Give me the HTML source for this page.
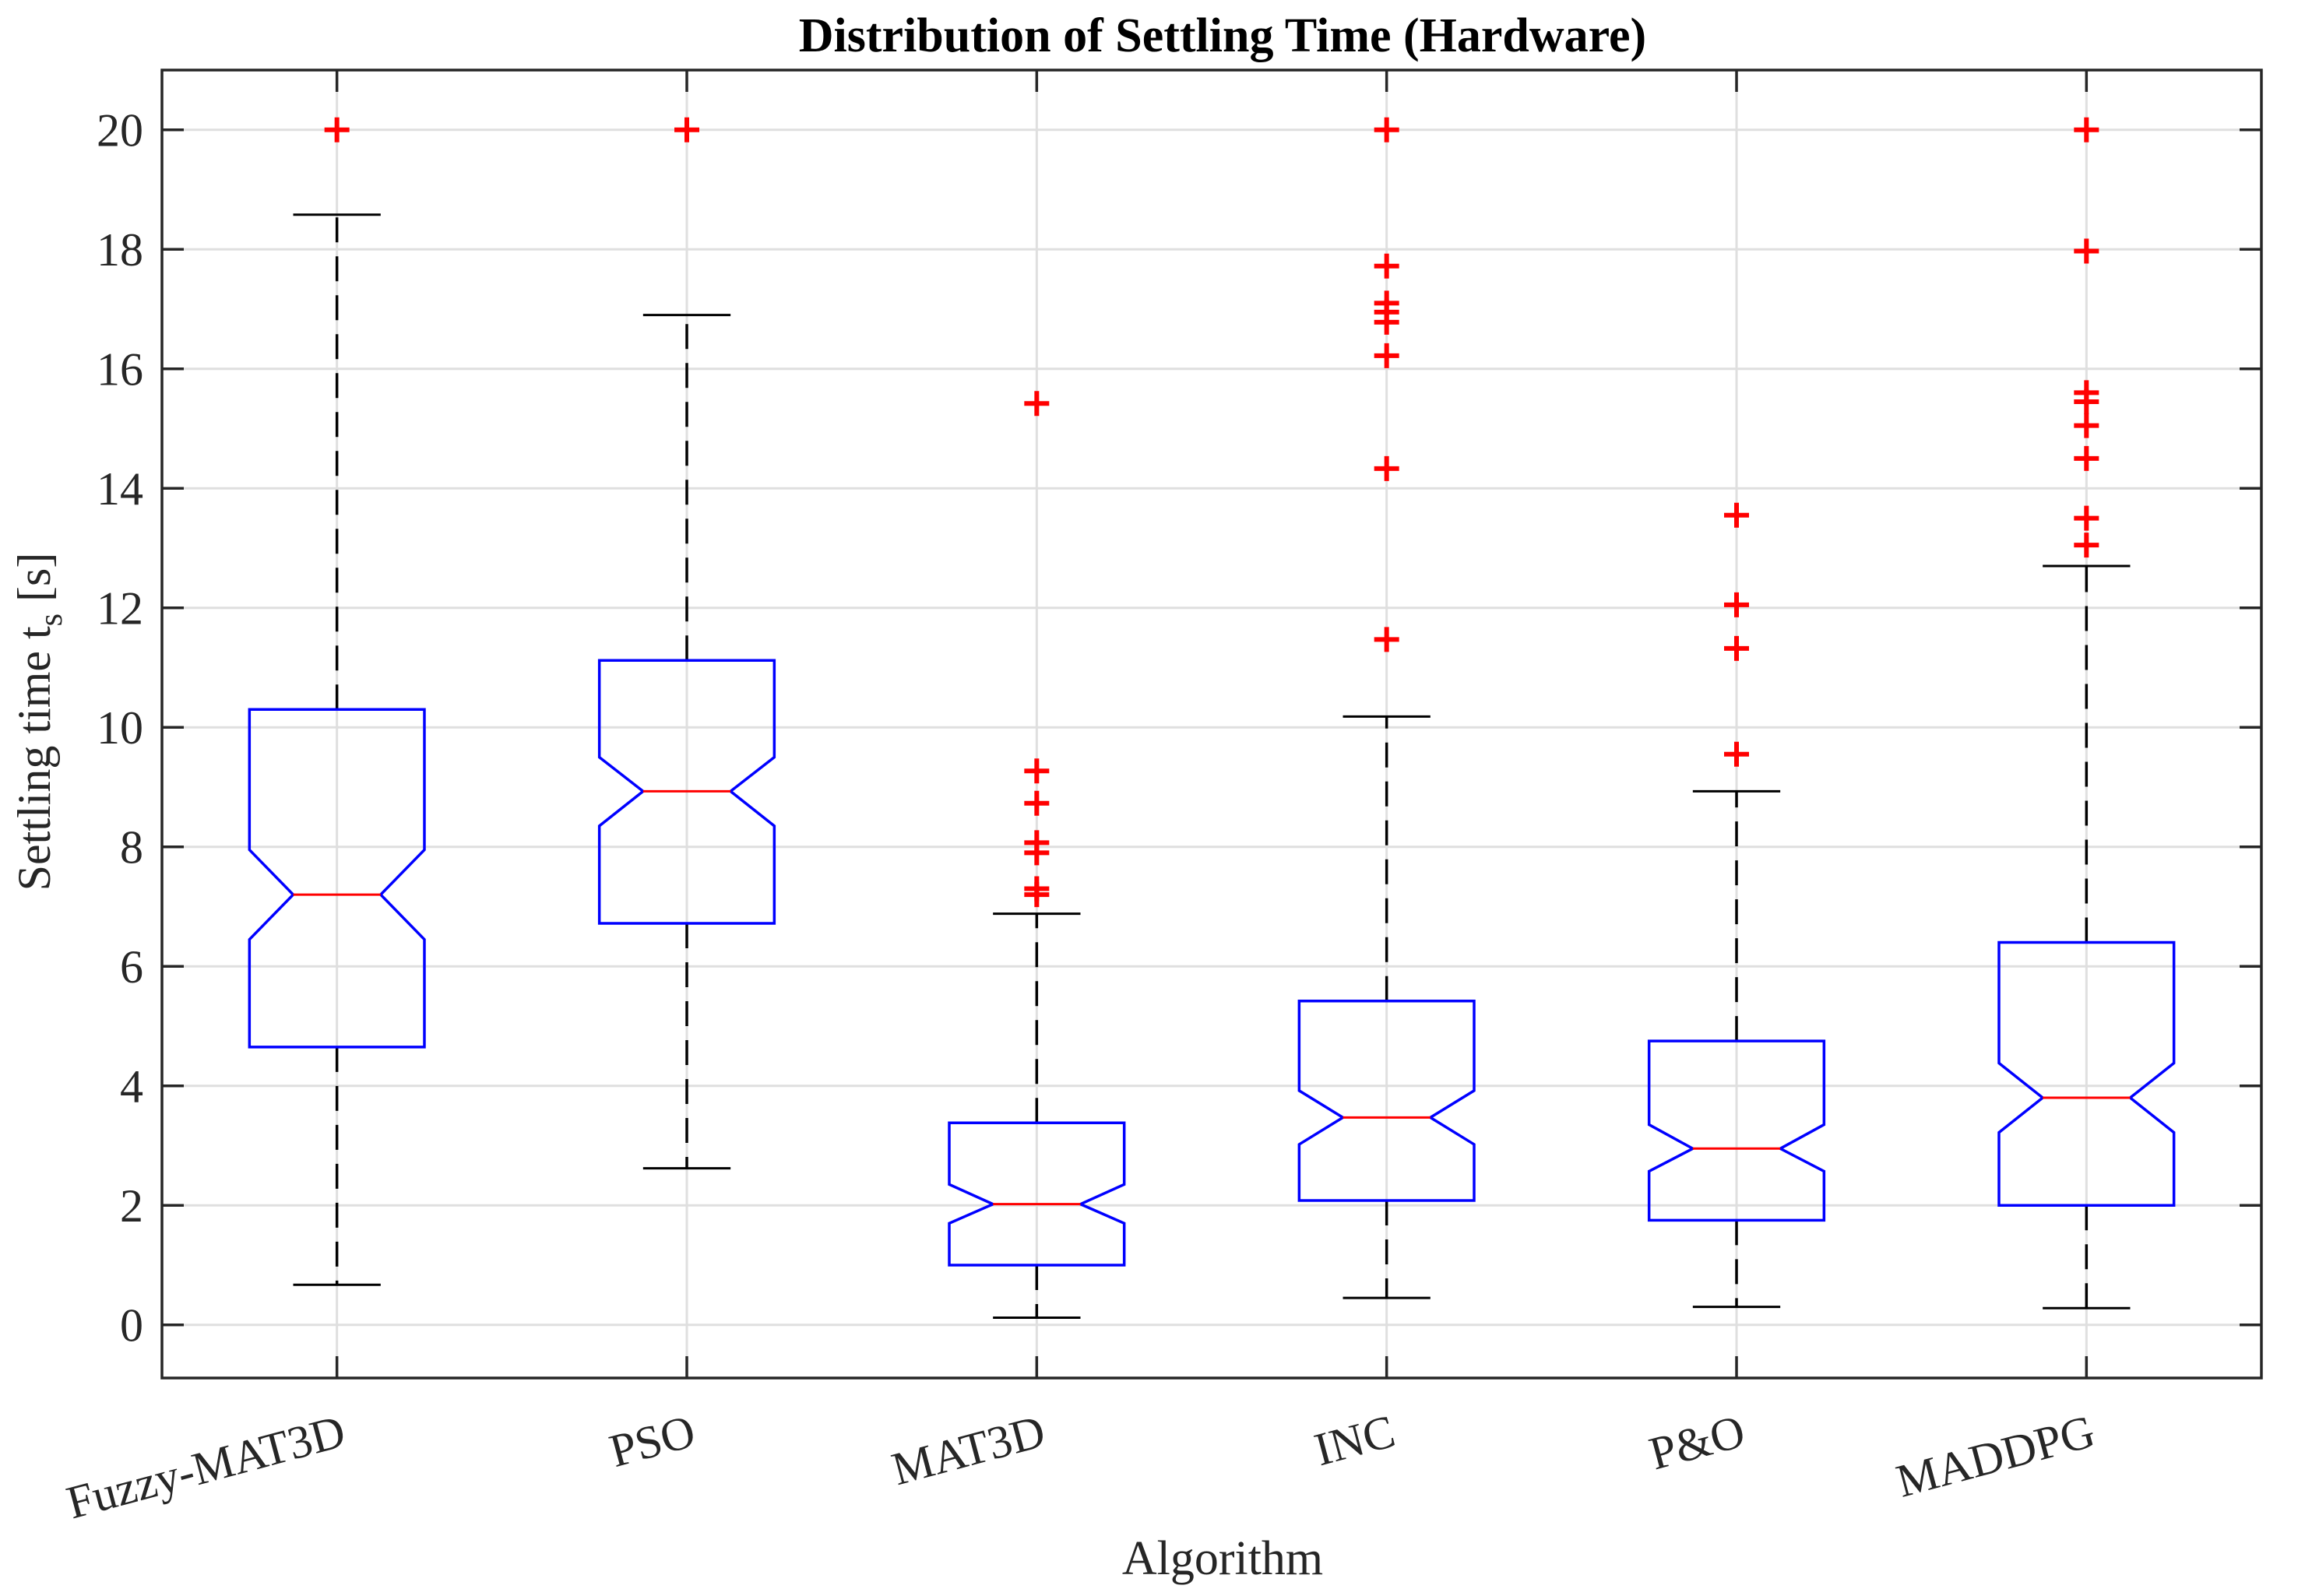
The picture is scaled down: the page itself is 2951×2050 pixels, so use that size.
<!DOCTYPE html>
<html><head><meta charset="utf-8"><style>
html,body{margin:0;padding:0;background:#fff;}
svg{display:block;font-family:"Liberation Serif",serif;}
</style></head><body>
<svg id="chart" width="2951" height="2050" viewBox="0 0 2951 2050">
<text x="1570" y="66" text-anchor="middle" font-size="62" font-weight="bold" fill="#000">Distribution of Settling Time (Hardware)</text>
<g id="grid"></g>
<g id="plot"></g>
<g id="axes"></g>
<text x="1570" y="2022" text-anchor="middle" font-size="62" fill="#262626">Algorithm</text>
<text transform="translate(64,927) rotate(-90)" text-anchor="middle" font-size="60" fill="#262626">Settling time t<tspan dy="15" font-size="42">s</tspan><tspan dy="-15"> [s]</tspan></text>
</svg>
<script>
const categories = ["Fuzzy-MAT3D","PSO","MAT3D","INC","P&O","MADDPG"];
const whiskerHigh = [18.58,16.9,6.88,10.18,8.93,12.7];
const q3Values = [10.3,11.12,3.38,5.42,4.75,6.4];
const medians = [7.2,8.93,2.02,3.47,2.95,3.8];
const q1Values = [4.65,6.72,1.0,2.08,1.75,2.0];
const whiskerLow = [0.67,2.62,0.12,0.45,0.3,0.28];
const notchHigh = [7.95,9.5,2.35,3.92,3.35,4.38];
const notchLow = [6.45,8.35,1.7,3.02,2.57,3.22];
const outliers = [[20],[20],[15.42,9.27,8.73,8.07,7.9,7.3,7.2],[20,17.72,17.1,16.95,16.78,16.22,14.33,11.47],[13.55,12.05,11.32,9.55],[20,17.97,15.6,15.45,15.05,14.5,13.5,13.05]];
const yTicks = [0,2,4,6,8,10,12,14,16,18,20];

const L=208,R=2904,T=90,B=1770,yMin=-0.89,yMax=21;
const xS=v=>L+(v-0.5)*(R-L)/categories.length;
const yS=v=>B-(v-yMin)*(B-T)/(yMax-yMin);
const NS="http://www.w3.org/2000/svg";
function mk(tag,attrs,parent){const e=document.createElementNS(NS,tag);for(const k in attrs)e.setAttribute(k,attrs[k]);parent.appendChild(e);return e;}
const grid=document.getElementById('grid'),plot=document.getElementById('plot'),axes=document.getElementById('axes');
yTicks.forEach(t=>{const g=mk('line',{x1:L,x2:R,y1:yS(t),y2:yS(t),stroke:'#dfdfdf','stroke-width':3},grid);

});
categories.forEach((c,i)=>{const g=mk('line',{x1:xS(i+1),x2:xS(i+1),y1:T,y2:B,stroke:'#dfdfdf','stroke-width':3},grid);

});
const hw=0.25,nw=0.125,cw=0.125;
categories.forEach((c,i)=>{
 const x=i+1,g=mk('g',{},plot);
 
 
 const wd={stroke:'#000','stroke-width':3.5,'stroke-dasharray':'32 18'};
 const w1=mk('line',Object.assign({x1:xS(x),x2:xS(x),y1:yS(q3Values[i]),y2:yS(whiskerHigh[i])},wd),g);
 
 
 const w2=mk('line',Object.assign({x1:xS(x),x2:xS(x),y1:yS(q1Values[i]),y2:yS(whiskerLow[i])},wd),g);
 
 
 [whiskerHigh[i],whiskerLow[i]].forEach(v=>{const cp=mk('line',{x1:xS(x-cw),x2:xS(x+cw),y1:yS(v),y2:yS(v),stroke:'#000','stroke-width':3},g);
 
 });
 const pts=[[x-hw,q1Values[i]],[x-hw,notchLow[i]],[x-nw,medians[i]],[x-hw,notchHigh[i]],[x-hw,q3Values[i]],[x+hw,q3Values[i]],[x+hw,notchHigh[i]],[x+nw,medians[i]],[x+hw,notchLow[i]],[x+hw,q1Values[i]]];
 const bx=mk('polygon',{points:pts.map(p=>xS(p[0])+','+yS(p[1])).join(' '),fill:'none',stroke:'#0000ff','stroke-width':3.5},g);
 
 
 const md=mk('line',{x1:xS(x-nw),x2:xS(x+nw),y1:yS(medians[i]),y2:yS(medians[i]),stroke:'#ff0000','stroke-width':3},g);
 
 
 outliers[i].forEach(v=>{const o=mk('path',{d:`M${xS(x)-16},${yS(v)}h32M${xS(x)},${yS(v)-16}v32`,stroke:'#ff0000','stroke-width':6},g);
 
 });
});
const fr=mk('rect',{x:L,y:T,width:R-L,height:B-T,fill:'none',stroke:'#262626','stroke-width':3.5},axes);


yTicks.forEach(t=>{const y=yS(t);
 const tk=mk('path',{d:`M${L},${y}h28M${R},${y}h-28`,stroke:'#262626','stroke-width':3.5},axes);
 
 
 const lb=mk('text',{x:184,y:y+21,'text-anchor':'end','font-size':60,fill:'#262626'},axes);lb.textContent=t;
 
 });
categories.forEach((c,i)=>{const x=xS(i+1);
 const tk=mk('path',{d:`M${x},${B}v-28M${x},${T}v28`,stroke:'#262626','stroke-width':3.5},axes);
 
 
 const lb=mk('text',{x:0,y:0,'text-anchor':'end','font-size':60,fill:'#262626',transform:`translate(${x+14},${B+86}) rotate(-15)`},axes);lb.textContent=c;
 
 });
</script>
</body></html>
